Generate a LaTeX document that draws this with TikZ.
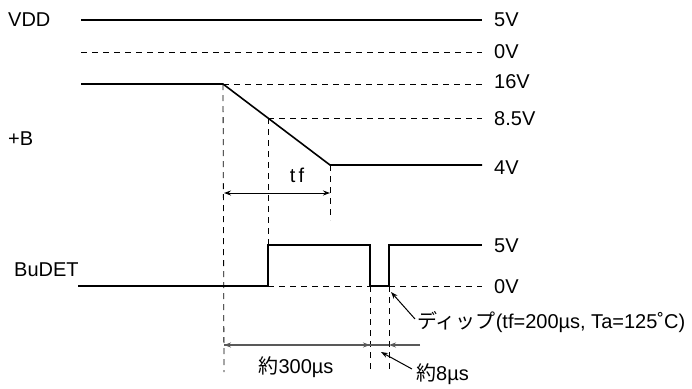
\documentclass[tikz,border=0pt]{standalone}
\usepackage{fontspec}
\setmainfont{Liberation Sans}
\newfontfamily\jpfont{Noto Sans CJK JP}
\usetikzlibrary{arrows.meta}

\tikzset{
  signal/.style={line width=1.6pt},
  guide/.style={line width=0.8pt, dash pattern=on 6pt off 5pt},
  dimline/.style={line width=1.2pt, draw=black!65},
  tip/.style={-{Stealth[length=7pt,width=5pt]}},
  lbl/.style={font=\fontsize{20}{23}\selectfont, inner sep=0pt}
}

\begin{document}
\begin{tikzpicture}[x=1pt, y=-1pt]
    \useasboundingbox (0,0) rectangle (692,388);

    % Key points of the waveforms
    \coordinate (vddL) at (81,20);
    \coordinate (vddR) at (482,20);
    \coordinate (zeroL) at (81,52);
    \coordinate (zeroR) at (482,52);
    \coordinate (bL) at (81,84);
    \coordinate (fallA) at (223,84);
    \coordinate (fallM) at (268,118);
    \coordinate (fallB) at (330,165);
    \coordinate (bR) at (482,165);
    \coordinate (hiR) at (482,84);
    \coordinate (midR) at (482,118);
    \coordinate (detL) at (78,286);
    \coordinate (riseLo) at (268,286);
    \coordinate (riseHi) at (268,245);
    \coordinate (dipA) at (370,245);
    \coordinate (dipB) at (370,286);
    \coordinate (dipC) at (389,286);
    \coordinate (dipD) at (389,245);
    \coordinate (detR) at (482,245);
    \coordinate (detZ) at (482,286);

    % Signal names on the left
    \node[lbl, anchor=west] (vdd) at (8,20) {VDD};
    \node[lbl, anchor=west] (plusb) at (8,139) {+B};
    \node[lbl, anchor=west] (budet) at (14,270) {BuDET};

    % Levels on the right
    \node[lbl, anchor=west] (v5a) at (494,20) {5V};
    \node[lbl, anchor=west] (v0a) at (494,52) {0V};
    \node[lbl, anchor=west] (v16) at (494,82) {16V};
    \node[lbl, anchor=west] (v85) at (494,119) {8.5V};
    \node[lbl, anchor=west] (v4) at (494,168) {4V};
    \node[lbl, anchor=west] (v5b) at (494,246) {5V};
    \node[lbl, anchor=west] (v0b) at (494,287) {0V};

    % Guide lines
    \draw[guide] (zeroL) -- (zeroR);
    \draw[guide] (fallA) -- (hiR);
    \draw[guide] (fallM) -- (midR);
    \draw[guide] (riseLo) -- (detZ);
    \draw[guide] (fallA) -- (224,372);
    \draw[guide] (fallM) -- (riseHi);
    \draw[guide] (fallB) -- (330,220);
    \draw[guide] (dipB) -- (370,372);
    \draw[guide] (dipC) -- (389,372);

    % Waveforms
    \draw[signal] (vddL) -- (vddR);
    \draw[signal] (bL) -- (fallA) -- (fallB) -- (bR);
    \draw[signal] (detL) -- (riseLo) -- (riseHi) -- (dipA) -- (dipB)
        -- (dipC) -- (dipD) -- (detR);

    % Fall time
    \draw[line width=1pt, {Stealth[length=7pt,width=5pt]}-{Stealth[length=7pt,width=5pt]}]
        (224,193) -- (330,193);
    \node[lbl] (tf) at (297,175) {t\,f};

    % Timing dimension
    \coordinate (dimL) at (224,345);
    \coordinate (dimM) at (370,345);
    \coordinate (dimN) at (389,345);
    \coordinate (dimR) at (420,345);
    \draw[dimline, tip] (dimM) -- (dimL);
    \draw[dimline, tip] (dimL) -- (dimM);
    \draw[dimline, tip] (dimR) -- (dimN);
    \draw[dimline] (dimM) -- (dimN);
    \node[lbl] (t300) at (296,367) {{\jpfont 約}300µs};

    % Callouts
    \node[lbl, anchor=west] (t8) at (416,374) {{\jpfont 約}8µs};
    \draw[line width=1pt, tip] (t8.west) ++(-4,-5) -- (381,352);
    \node[lbl, anchor=west] (dip) at (417,322) {{\jpfont ディップ}(tf=200µs, Ta=125˚C)};
    \draw[line width=1pt, tip] (dip.west) ++(-2,-3) -- (391,292);

\end{tikzpicture}
\end{document}
